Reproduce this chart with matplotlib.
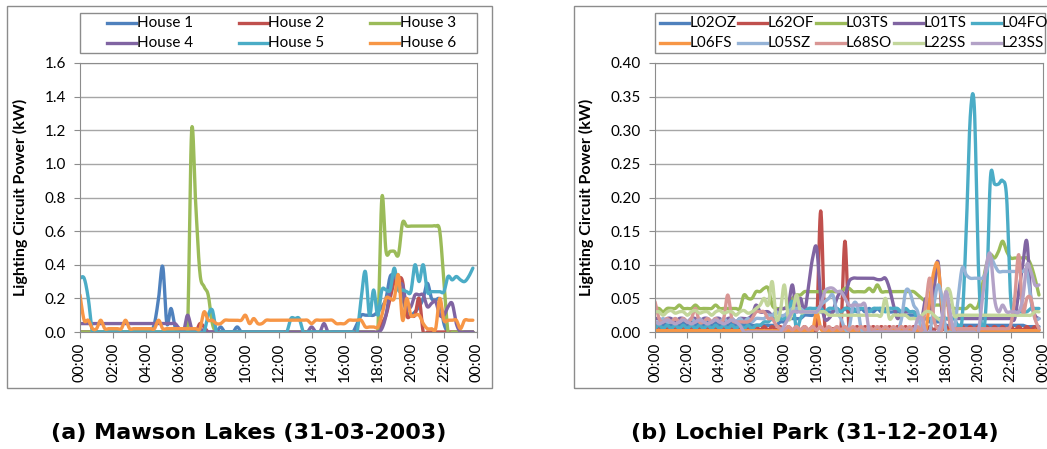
import numpy as np
import matplotlib.pyplot as plt
from matplotlib.patches import Rectangle
from matplotlib.lines import Line2D

plt.rcParams['font.family'] = ['Lato', 'DejaVu Sans']

# 15-minute readings, one row per hour
hours = np.arange(96) / 4
tick_hours = np.arange(0, 25, 2)
tick_labels = ["%02d:00" % (h % 24) for h in tick_hours]

house_names = ["House 1", "House 2", "House 3", "House 4", "House 5", "House 6"]

house1 = [0, 0, 0, 0,  0, 0, 0, 0,  0, 0, 0, 0,  0, 0, 0, 0,
          0, 0, 0.05, 0.2,  0.39, 0.05, 0.14, 0.03,  0, 0, 0, 0,  0, 0, 0, 0,
          0, 0, 0.03, 0,  0, 0, 0.03, 0,  0, 0, 0, 0,  0, 0, 0, 0,
          0, 0, 0, 0,  0, 0, 0, 0,  0, 0, 0, 0,  0, 0, 0, 0,
          0, 0, 0, 0.05,  0.1, 0.1, 0.1, 0.1,  0.12, 0.15, 0.2, 0.33,  0.33, 0.3, 0.2, 0.12,
          0.1, 0.12, 0.15, 0.2,  0.29, 0.2, 0.19, 0.19,  0.05, 0, 0, 0,  0, 0, 0, 0]

house2 = [0, 0, 0, 0,  0, 0, 0, 0,  0, 0, 0, 0,  0, 0, 0, 0,
          0, 0, 0, 0,  0, 0, 0, 0,  0, 0, 0, 0,  0, 0.05, 0.03, 0,
          0, 0, 0, 0,  0, 0, 0, 0,  0, 0, 0, 0,  0, 0, 0, 0,
          0, 0, 0, 0,  0, 0, 0, 0,  0, 0, 0, 0,  0, 0, 0, 0,
          0, 0, 0, 0,  0, 0, 0, 0,  0, 0.05, 0.1, 0.2,  0.3, 0.32, 0.3, 0.1,
          0.1, 0.1, 0.2, 0,  0, 0, 0, 0,  0, 0, 0, 0,  0, 0, 0, 0]

house3 = [0, 0, 0, 0,  0, 0, 0, 0,  0, 0, 0, 0,  0, 0, 0, 0,
          0, 0, 0, 0,  0, 0, 0, 0,  0, 0, 0, 1.2,  0.75, 0.35, 0.27, 0.22,
          0.05, 0, 0, 0,  0, 0, 0, 0,  0, 0, 0, 0,  0, 0, 0, 0,
          0, 0, 0, 0,  0, 0, 0, 0,  0, 0, 0, 0,  0, 0, 0, 0,
          0, 0, 0, 0,  0, 0, 0, 0,  0, 0.8, 0.48, 0.48,  0.48, 0.46, 0.65, 0.63,
          0.63, 0.63, 0.63, 0.63,  0.63, 0.63, 0.63, 0.6,  0.3, 0, 0, 0,  0, 0, 0, 0]

house4 = [0.05, 0.05, 0.05, 0.05,  0.05, 0.05, 0.05, 0.05,  0.05, 0.05, 0.05, 0.05,  0.05, 0.05, 0.05, 0.05,
          0.05, 0.05, 0.05, 0.05,  0.05, 0.05, 0.05, 0.05,  0.02, 0, 0.1, 0.02,  0, 0.02, 0, 0,
          0, 0, 0, 0,  0, 0, 0, 0,  0, 0, 0, 0,  0, 0, 0, 0,
          0, 0, 0, 0,  0, 0, 0, 0,  0.03, 0, 0, 0.05,  0, 0, 0, 0,
          0, 0, 0, 0,  0, 0, 0, 0,  0, 0.02, 0.1, 0.25,  0.34, 0.28, 0.28, 0.15,
          0.15, 0.22, 0.22, 0.22,  0.15, 0.17, 0.18, 0.1,  0.1, 0.15, 0.17, 0.05,  0, 0, 0, 0]

house5 = [0.32, 0.32, 0.2, 0,  0, 0, 0, 0,  0, 0, 0, 0,  0, 0, 0, 0,
          0, 0, 0, 0,  0, 0, 0, 0,  0, 0, 0, 0,  0, 0, 0, 0.1,
          0.13, 0, 0, 0,  0, 0, 0, 0,  0, 0, 0, 0,  0, 0, 0, 0,
          0, 0, 0, 0.08,  0.08, 0.08, 0, 0,  0, 0, 0, 0,  0, 0, 0, 0,
          0, 0, 0, 0,  0.2, 0.36, 0.1, 0.25,  0.1, 0.25, 0.25, 0.25,  0.38, 0.25, 0.25, 0.24,
          0.24, 0.4, 0.3, 0.4,  0.24, 0.24, 0.24, 0.24,  0.24, 0.33, 0.31, 0.33,  0.31, 0.3, 0.33, 0.38]

house6 = [0.22, 0.07, 0.07, 0.02,  0.02, 0.07, 0.02, 0.02,  0.02, 0.02, 0.02, 0.07,  0.02, 0.02, 0.02, 0.02,
          0.02, 0.02, 0.02, 0.07,  0.02, 0.02, 0.02, 0.02,  0.02, 0.02, 0.02, 0.02,  0.02, 0.02, 0.12, 0.07,
          0.07, 0.05, 0.05, 0.07,  0.07, 0.07, 0.07, 0.07,  0.1, 0.05, 0.08, 0.05,  0.05, 0.07, 0.07, 0.07,
          0.07, 0.07, 0.07, 0.07,  0.07, 0.07, 0.07, 0.07,  0.05, 0.07, 0.07, 0.07,  0.07, 0.07, 0.05, 0.05,
          0.05, 0.07, 0.07, 0.07,  0.07, 0.03, 0.03, 0.03,  0.03, 0.1, 0.2, 0.2,  0.2, 0.34, 0.07, 0.2,
          0.1, 0.1, 0.1, 0.05,  0.02, 0.02, 0.02, 0.2,  0.07, 0.07, 0.07, 0.07,  0.02, 0.07, 0.07, 0.07]

site_names = ["L02OZ", "L62OF", "L03TS", "L01TS", "L04FO",
              "L06FS", "L05SZ", "L68SO", "L22SS", "L23SS"]

l02oz = [0.01, 0.015, 0.01, 0.015,  0.01, 0.015, 0.01, 0.015,  0.01, 0.015, 0.01, 0.015,  0.01, 0.015, 0.01, 0.015,
         0.01, 0.015, 0.01, 0.015,  0.01, 0.015, 0.01, 0.015,  0.01, 0.01, 0.01, 0.01,  0.01, 0.01, 0.01, 0.015,
         0.015, 0.02, 0.02, 0.02,  0.02, 0.025, 0.025, 0.025,  0.03, 0.03, 0.03, 0.03,  0.03, 0.035, 0.03, 0.035,
         0.03, 0.035, 0.03, 0.035,  0.03, 0.035, 0.03, 0.035,  0.03, 0.035, 0.03, 0.03,  0.03, 0.03, 0.025, 0.025,
         0.025, 0.025, 0.02, 0.02,  0.015, 0.015, 0.015, 0.015,  0.01, 0.01, 0.01, 0.01,  0.01, 0.01, 0.01, 0.01,
         0.01, 0.01, 0.01, 0.01,  0.01, 0.01, 0.01, 0.01,  0.01, 0.01, 0.01, 0.01,  0.008, 0.008, 0.008, 0.008]

l62of = [0.003, 0.008, 0.003, 0.008,  0.003, 0.008, 0.003, 0.008,  0.003, 0.008, 0.003, 0.008,  0.003, 0.008, 0.003, 0.008,
         0.003, 0.008, 0.003, 0.008,  0.003, 0.008, 0.003, 0.008,  0.003, 0.008, 0.003, 0.008,  0.003, 0.008, 0.003, 0.008,
         0.003, 0.008, 0.003, 0.008,  0.003, 0.008, 0.003, 0.008,  0.01, 0.18, 0.01, 0.005,  0.005, 0.005, 0.005, 0.135,
         0.005, 0.003, 0.008, 0.003,  0.008, 0.003, 0.008, 0.003,  0.008, 0.003, 0.008, 0.003,  0.008, 0.003, 0.008, 0.003,
         0.008, 0.003, 0.008, 0.003,  0.008, 0.003, 0.008, 0.003,  0.008, 0.003, 0.008, 0.003,  0.008, 0.003, 0.008, 0.003,
         0.008, 0.003, 0.008, 0.003,  0.008, 0.003, 0.008, 0.003,  0.008, 0.003, 0.008, 0.003,  0.008, 0.003, 0.008, 0.003]

l03ts = [0.035, 0.035, 0.03, 0.035,  0.035, 0.035, 0.04, 0.035,  0.035, 0.035, 0.04, 0.035,  0.035, 0.035, 0.035, 0.04,
         0.035, 0.035, 0.035, 0.035,  0.035, 0.035, 0.055, 0.05,  0.05, 0.06, 0.06, 0.065,  0.065, 0.04, 0.035, 0.035,
         0.035, 0.04, 0.05, 0.055,  0.055, 0.06, 0.06, 0.06,  0.06, 0.06, 0.06, 0.06,  0.06, 0.06, 0.06, 0.065,
         0.065, 0.06, 0.06, 0.06,  0.06, 0.065, 0.06, 0.07,  0.06, 0.06, 0.06, 0.06,  0.06, 0.06, 0.06, 0.06,
         0.06, 0.055, 0.05, 0.045,  0.04, 0.04, 0.04, 0.04,  0.04, 0.04, 0.035, 0.035,  0.035, 0.035, 0.04, 0.035,
         0.04, 0.07, 0.1, 0.115,  0.11, 0.12, 0.135, 0.12,  0.11, 0.11, 0.11, 0.11,  0.11, 0.1, 0.08, 0.055]

l01ts = [0.02, 0.02, 0.015, 0.02,  0.02, 0.015, 0.02, 0.02,  0.015, 0.02, 0.02, 0.015,  0.02, 0.02, 0.015, 0.02,
         0.02, 0.015, 0.02, 0.02,  0.015, 0.02, 0.02, 0.02,  0.025, 0.04, 0.03, 0.03,  0.03, 0.025, 0.03, 0.035,
         0.035, 0.04, 0.07, 0.03,  0.05, 0.03, 0.07, 0.11,  0.125, 0.05, 0.02, 0.02,  0.03, 0.05, 0.06, 0.055,
         0.075, 0.08, 0.08, 0.08,  0.08, 0.08, 0.08, 0.078,  0.078, 0.08, 0.065, 0.04,  0.02, 0.03, 0.03, 0.03,
         0.03, 0.025, 0.02, 0.05,  0.03, 0.06, 0.105, 0.03,  0.02, 0.02, 0.02, 0.02,  0.02, 0.02, 0.02, 0.02,
         0.02, 0.02, 0.02, 0.02,  0.02, 0.02, 0.02, 0.02,  0.02, 0.02, 0.06, 0.1,  0.135, 0.05, 0.025, 0.02]

l04fo = [0.005, 0.01, 0.005, 0.01,  0.005, 0.01, 0.005, 0.01,  0.005, 0.01, 0.005, 0.01,  0.005, 0.01, 0.005, 0.01,
         0.005, 0.01, 0.005, 0.01,  0.005, 0.01, 0.005, 0.01,  0.005, 0.01, 0.01, 0.015,  0.015, 0.02, 0.02, 0.02,
         0.02, 0.03, 0.045, 0.005,  0.02, 0.03, 0.035, 0.035,  0.035, 0.035, 0.03, 0.035,  0.035, 0.035, 0.03, 0.035,
         0.035, 0.03, 0.035, 0.035,  0.035, 0.03, 0.035, 0.035,  0.035, 0.03, 0.035, 0.035,  0.035, 0.03, 0.035, 0.03,
         0.03, 0.02, 0.02, 0.02,  0.02, 0.02, 0.02, 0.02,  0.02, 0.02, 0.02, 0.01,  0.02, 0.15, 0.32, 0.335,
         0.1, 0.0, 0.05, 0.23,  0.22, 0.22, 0.225, 0.2,  0.05, 0.03, 0.03, 0.03,  0.03, 0.035, 0.035, 0.035]

l06fs = [0.002, 0.002, 0.002, 0.002,  0.002, 0.002, 0.002, 0.002,  0.002, 0.002, 0.002, 0.002,  0.002, 0.002, 0.002, 0.002,
         0.002, 0.002, 0.002, 0.002,  0.002, 0.002, 0.002, 0.002,  0.002, 0.002, 0.002, 0.002,  0.002, 0.002, 0.002, 0.002,
         0.002, 0.002, 0.002, 0.002,  0.002, 0.002, 0.002, 0.002,  0.03, 0.005, 0.002, 0.002,  0.002, 0.002, 0.002, 0.002,
         0.002, 0.002, 0.002, 0.002,  0.002, 0.002, 0.002, 0.002,  0.002, 0.002, 0.002, 0.002,  0.002, 0.002, 0.002, 0.002,
         0.002, 0.002, 0.002, 0.002,  0.05, 0.09, 0.1, 0.04,  0.002, 0.002, 0.002, 0.002,  0.002, 0.002, 0.002, 0.002,
         0.002, 0.002, 0.002, 0.002,  0.002, 0.002, 0.002, 0.002,  0.002, 0.002, 0.002, 0.002,  0.002, 0.002, 0.002, 0.002]

l05sz = [0.015, 0.015, 0.02, 0.015,  0.015, 0.02, 0.015, 0.02,  0.015, 0.02, 0.015, 0.02,  0.015, 0.02, 0.015, 0.02,
         0.015, 0.02, 0.015, 0.02,  0.015, 0.02, 0.015, 0.02,  0.015, 0.02, 0.02, 0.02,  0.025, 0.025, 0.03, 0.025,
         0.025, 0.03, 0.035, 0.035,  0.035, 0.03, 0.03, 0.03,  0.03, 0.04, 0.045, 0.05,  0.055, 0.03, 0.02, 0.005,
         0.005, 0.04, 0.04, 0.005,  0.0, 0.0, 0.0, 0.0,  0.0, 0.0, 0.0, 0.0,  0.0, 0.02, 0.06, 0.06,
         0.04, 0.03, 0.0, 0.0,  0.0, 0.04, 0.07, 0.05,  0.0, 0.0, 0.0, 0.05,  0.095, 0.085, 0.08, 0.08,
         0.08, 0.08, 0.09, 0.11,  0.1, 0.09, 0.09, 0.09,  0.09, 0.09, 0.09, 0.09,  0.09, 0.05, 0.02, 0.02]

l68so = [0.045, 0.02, 0.015, 0.02,  0.015, 0.02, 0.015, 0.02,  0.015, 0.02, 0.035, 0.015,  0.015, 0.02, 0.015, 0.02,
         0.015, 0.02, 0.055, 0.02,  0.015, 0.015, 0.015, 0.015,  0.02, 0.03, 0.03, 0.03,  0.02, 0.02, 0.01, 0.005,
         0.003, 0.008, 0.003, 0.008,  0.003, 0.008, 0.003, 0.008,  0.003, 0.008, 0.003, 0.008,  0.003, 0.008, 0.003, 0.008,
         0.003, 0.008, 0.003, 0.008,  0.003, 0.008, 0.003, 0.008,  0.003, 0.008, 0.003, 0.008,  0.003, 0.008, 0.003, 0.008,
         0.003, 0.008, 0.003, 0.04,  0.08, 0.02, 0.005, 0.005,  0.06, 0.01, 0.005, 0.005,  0.005, 0.005, 0.005, 0.005,
         0.005, 0.005, 0.005, 0.005,  0.005, 0.005, 0.005, 0.005,  0.01, 0.05, 0.115, 0.03,  0.05, 0.05, 0.02, 0.005]

l22ss = [0.03, 0.03, 0.025, 0.03,  0.032, 0.028, 0.03, 0.03,  0.025, 0.03, 0.032, 0.028,  0.03, 0.03, 0.025, 0.03,
         0.032, 0.028, 0.03, 0.03,  0.025, 0.03, 0.032, 0.028,  0.03, 0.035, 0.04, 0.05,  0.04, 0.075, 0.02, 0.03,
         0.07, 0.02, 0.03, 0.055,  0.03, 0.03, 0.03, 0.03,  0.03, 0.03, 0.03, 0.025,  0.025, 0.025, 0.025, 0.025,
         0.025, 0.025, 0.025, 0.025,  0.025, 0.025, 0.025, 0.025,  0.025, 0.05, 0.02, 0.025,  0.025, 0.025, 0.025, 0.02,
         0.02, 0.02, 0.025, 0.03,  0.03, 0.025, 0.02, 0.02,  0.06, 0.06, 0.025, 0.025,  0.025, 0.025, 0.025, 0.025,
         0.025, 0.025, 0.025, 0.025,  0.025, 0.025, 0.025, 0.025,  0.025, 0.025, 0.025, 0.025,  0.025, 0.025, 0.03, 0.03]

l23ss = [0.015, 0.012, 0.015, 0.018,  0.015, 0.012, 0.015, 0.018,  0.015, 0.012, 0.015, 0.018,  0.015, 0.012, 0.015, 0.018,
         0.015, 0.012, 0.015, 0.018,  0.015, 0.01, 0.0, 0.0,  0.0, 0.0, 0.0, 0.0,  0.0, 0.0, 0.0, 0.0,
         0.01, 0.02, 0.03, 0.03,  0.03, 0.03, 0.03, 0.03,  0.03, 0.04, 0.06, 0.065,  0.065, 0.06, 0.06, 0.05,
         0.04, 0.04, 0.04, 0.04,  0.04, 0.0, 0.0, 0.0,  0.0, 0.0, 0.0, 0.0,  0.0, 0.0, 0.0, 0.0,
         0.0, 0.02, 0.02, 0.0,  0.0, 0.0, 0.0, 0.02,  0.06, 0.03, 0.0, 0.0,  0.0, 0.0, 0.0, 0.0,
         0.0, 0.05, 0.1, 0.115,  0.05, 0.03, 0.04, 0.03,  0.03, 0.03, 0.03, 0.05,  0.1, 0.09, 0.07, 0.07]

house_colors = ["#4F81BD", "#C0504D", "#9BBB59", "#8064A2", "#4BACC6", "#F79646"]
site_colors = ["#4F81BD", "#C0504D", "#9BBB59", "#8064A2", "#4BACC6",
               "#F79646", "#95B3D7", "#D99694", "#C3D69B", "#B3A2C7"]


def smooth_line(x, y, n=10):
    # Catmull-Rom curve through the points, like a smoothed line in a spreadsheet
    x = np.asarray(x, float)
    y = np.asarray(y, float)
    px = np.concatenate([[x[0]], x, [x[-1]]])
    py = np.concatenate([[y[0]], y, [y[-1]]])
    t = np.linspace(0, 1, n, endpoint=False)[:, None]
    def seg(p):
        p0, p1, p2, p3 = p[:-3], p[1:-2], p[2:-1], p[3:]
        return 0.5 * (2 * p1 + (-p0 + p2) * t + (2 * p0 - 5 * p1 + 4 * p2 - p3) * t ** 2
                      + (-p0 + 3 * p1 - 3 * p2 + p3) * t ** 3)
    sx = np.append(seg(px).T.ravel(), x[-1])
    sy = np.append(seg(py).T.ravel(), y[-1])
    return sx, sy


W, H = 1047, 449
fig = plt.figure(figsize=(W / 100, H / 100), dpi=100)

def fx(px):
    return px / W

def fy(py):
    return 1 - py / H

GREY = "#8C8C8C"

# outer chart frames
for x0, x1 in [(7, 492), (574, 1060)]:
    fig.patches.append(Rectangle((fx(x0), fy(388)), fx(x1 - x0), (388 - 6) / H,
                                 transform=fig.transFigure, fill=False,
                                 edgecolor=GREY, linewidth=1.0))

def setup(ax, ymax, ystep, fmt):
    ax.set_xlim(0, 24)
    ax.set_ylim(0, ymax)
    ax.set_yticks(np.arange(0, ymax + ystep / 2, ystep))
    ax.yaxis.set_major_formatter(plt.FormatStrFormatter(fmt))
    ax.set_xticks(tick_hours)
    ax.set_xticklabels(tick_labels, rotation=90)
    ax.grid(axis="y", color="#A6A6A6", linewidth=1.0)
    ax.set_axisbelow(True)
    for s in ax.spines.values():
        s.set_color(GREY)
    ax.tick_params(axis="both", labelsize=11, color=GREY, length=4,
                   direction="out")
    ax.tick_params(axis="y", pad=6)
    ax.set_ylabel("Lighting Circuit Power (kW)", fontsize=11.5,
                  fontweight="bold", labelpad=12)

ax1 = fig.add_axes([fx(80), fy(332), fx(397), (332 - 63) / H])
series1 = [house1, house2, house3, house4, house5, house6]
for vals, c in zip(series1, house_colors):
    sx, sy = smooth_line(hours, vals)
    ax1.plot(sx, sy, color=c, linewidth=2.4,
             solid_joinstyle="round", solid_capstyle="round")
setup(ax1, 1.6, 0.2, "%.1f")

ax2 = fig.add_axes([fx(655), fy(332), fx(388), (332 - 63) / H])
series2 = [l02oz, l62of, l03ts, l01ts, l04fo, l06fs, l05sz, l68so, l22ss, l23ss]
for vals, c in zip(series2, site_colors):
    sx, sy = smooth_line(hours, vals)
    ax2.plot(sx, sy, color=c, linewidth=2.4,
             solid_joinstyle="round", solid_capstyle="round")
setup(ax2, 0.40, 0.05, "%.2f")


def draw_legend(names, colors, box, x_start, dx, ncol):
    # box frame, then entries laid out row by row
    x0, y0, x1, y1 = box
    fig.patches.append(Rectangle((fx(x0), fy(y1)), fx(x1 - x0), (y1 - y0) / H,
                                 transform=fig.transFigure, fill=False,
                                 edgecolor=GREY, linewidth=1.0))
    rows_y = [23, 43]
    for i, (name, c) in enumerate(zip(names, colors)):
        r, col = divmod(i, ncol)
        hx = x_start + col * dx
        yy = fy(rows_y[r])
        fig.lines.append(Line2D([fx(hx), fx(hx + 29)], [yy, yy], color=c,
                                linewidth=2.4, transform=fig.transFigure))
        fig.text(fx(hx + 30), yy, name, ha="left", va="center", fontsize=11)


draw_legend(house_names, house_colors, (80, 13, 477, 53), 107, 131.5, 3)
draw_legend(site_names, site_colors, (655, 13, 1045, 53), 660, 78, 5)

cap_font = ["DejaVu Sans"]
fig.text(fx(249), fy(433), "(a) Mawson Lakes (31-03-2003)", ha="center",
         va="center", fontsize=16, fontweight="bold", family=cap_font)
fig.text(fx(815), fy(433), "(b) Lochiel Park (31-12-2014)", ha="center",
         va="center", fontsize=16, fontweight="bold", family=cap_font)

fig.savefig("out.png", dpi=100)
